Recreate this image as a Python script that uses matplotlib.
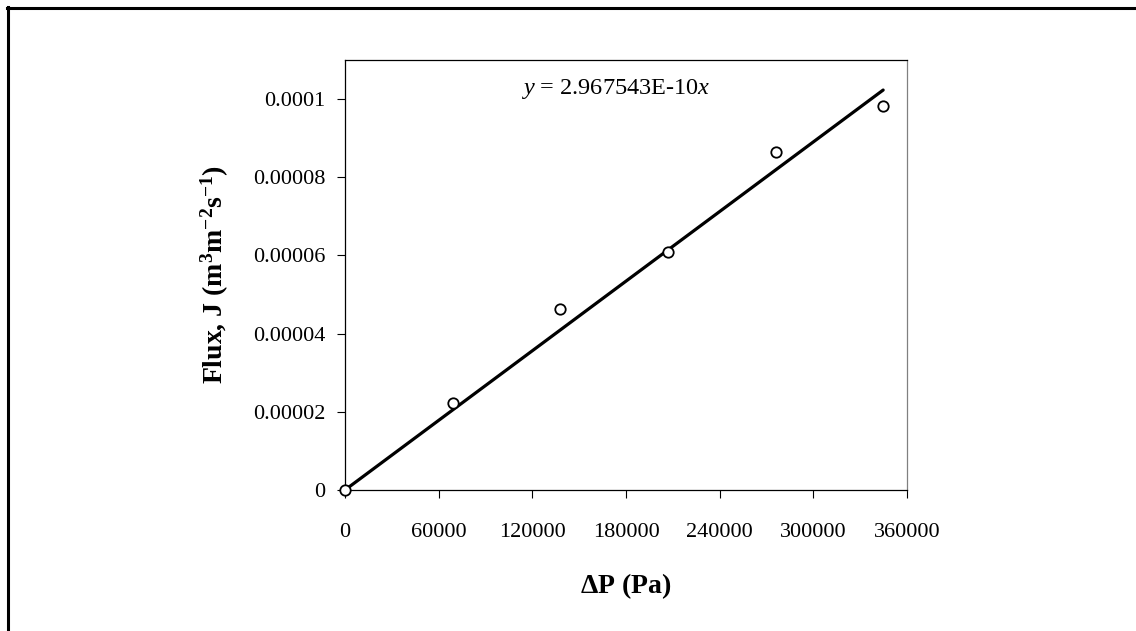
import matplotlib.pyplot as plt
import numpy as np
from matplotlib.lines import Line2D

plt.rcParams['font.family'] = 'Liberation Serif'
plt.rcParams['mathtext.fontset'] = 'custom'
plt.rcParams['mathtext.rm'] = 'Liberation Serif'
plt.rcParams['mathtext.it'] = 'Liberation Serif:italic'
plt.rcParams['mathtext.bf'] = 'Liberation Serif:bold'

# data
dp = [0, 68948, 137895, 206843, 275790, 344738]
flux = [0, 2.23e-5, 4.64e-5, 6.08e-5, 8.64e-5, 9.82e-5]
slope = 2.967543e-10
xticks = [0, 60000, 120000, 180000, 240000, 300000, 360000]
yticks = [0, 0.00002, 0.00004, 0.00006, 0.00008, 0.0001]
yticklabels = ['0', '0.00002', '0.00004', '0.00006', '0.00008', '0.0001']

fig = plt.figure(figsize=(11.36, 6.31), dpi=100)
ax = fig.add_axes([0.3037, 0.2235, 0.4947, 0.6815])

xfit = np.array([0, dp[-1]])
ax.plot(xfit, slope*xfit, color='black', lw=2.3, zorder=2, solid_capstyle='round')
ax.plot(dp, flux, 'o', mfc='white', mec='black', mew=1.3, ms=7.5, zorder=3, clip_on=False)

ax.set_xlim(0, 360000)
ax.set_ylim(0, 0.00011)
ax.set_xticks(xticks)
ax.set_xticklabels([str(t) for t in xticks])
ax.set_yticks(yticks)
ax.set_yticklabels(yticklabels)
ax.tick_params(axis='both', labelsize=16, direction='out', width=0.8, length=6)
ax.tick_params(axis='x', pad=18)
ax.tick_params(axis='y', pad=8)
for s in ax.spines.values():
    s.set_linewidth(0.9)
ax.spines['right'].set_color('#808080')

ax.text(113000, 1.013e-4, r'$y$ = 2.967543E-10$x$', fontsize=17.5, ha='left', va='baseline')

ax.set_xlabel(r'$\mathbf{\Delta}$P (Pa)', fontsize=20, fontweight='bold', labelpad=21)
ax.set_ylabel(r'Flux, J (m$^{\mathbf{3}}$m$^{\mathbf{-2}}$s$^{\mathbf{-1}}$)', fontsize=20,
              fontweight='bold', labelpad=16)

# outer frame (top and left edges)
fig.add_artist(Line2D([7/1136, 1.0], [1-8/631, 1-8/631], color='black', lw=2.2, transform=fig.transFigure))
fig.add_artist(Line2D([8/1136, 8/1136], [0, 1-7/631], color='black', lw=2.2, transform=fig.transFigure))

fig.savefig('out.png', dpi=100)
